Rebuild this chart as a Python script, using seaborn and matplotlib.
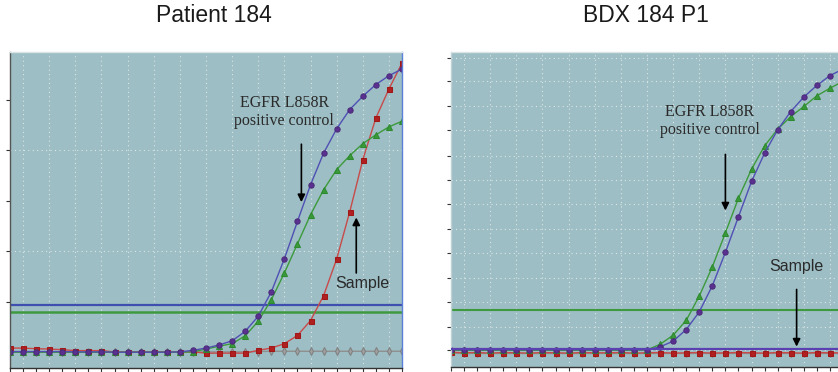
import numpy as np
import seaborn as sns
import matplotlib.pyplot as plt

sns.set_style("white")
plt.rcParams['font.family'] = ['Liberation Sans', 'DejaVu Sans']

cycles = list(range(31))

# Patient 184 (left panel), fluorescence in arbitrary units
left_purple = [5.2, 5.2, 5.2, 5.2, 5.2, 5.1, 5.1, 5.1, 5.0, 5.0, 5.0, 5.0, 5.0, 5.1, 5.6, 6.3,
               7.3, 8.6, 11.6, 16.4, 24.1, 34.6, 46.4, 58.0, 68.0, 75.7, 81.8, 86.0, 89.7, 92.5, 94.6]
left_green = [5.0, 5.0, 5.0, 5.0, 5.0, 5.0, 5.0, 5.0, 5.0, 5.0, 5.0, 5.0, 5.0, 5.0, 5.1, 6.0,
              6.9, 7.7, 10.2, 14.8, 21.6, 30.1, 39.3, 48.5, 56.4, 62.8, 67.2, 71.0, 73.8, 76.3, 78.1]
left_red = [6.3, 6.3, 6.1, 6.0, 5.8, 5.5, 5.5, 5.5, 5.1, 5.1, 5.1, 5.1, 5.1, 5.1, 5.1, 4.7,
            4.7, 4.7, 4.7, 5.6, 6.3, 7.7, 10.3, 15.0, 22.9, 34.5, 49.4, 65.9, 79.1, 88.3, 96.5]
left_gray = [5.0, 5.0, 5.0, 5.0, 5.0, 5.0, 5.0, 5.0, 5.0, 5.0, 5.0, 5.0, 5.0, 5.0, 5.1, 5.1,
             5.1, 5.1, 5.1, 5.2, 5.3, 5.3, 5.3, 5.3, 5.3, 5.3, 5.3, 5.3, 5.3, 5.3, 5.3]
left_thr_blue = 19.8
left_thr_green = 17.6

# BDX 184 P1 (right panel)
right_purple = [5.5, 5.5, 5.5, 5.5, 5.5, 5.5, 5.5, 5.5, 5.5, 5.5, 5.5, 5.5, 5.5, 5.5, 5.5, 5.5,
                6.4, 8.2, 11.9, 17.5, 25.8, 36.4, 47.7, 58.9, 67.9, 75.3, 81.1, 85.7, 89.4, 92.5, 94.6]
right_green = [5.3, 5.3, 5.3, 5.3, 5.3, 5.3, 5.3, 5.3, 5.3, 5.3, 5.3, 5.3, 5.3, 5.3, 5.3, 5.4,
               7.2, 10.1, 14.8, 22.5, 31.8, 42.6, 53.6, 62.8, 70.2, 75.5, 79.5, 82.7, 86.1, 88.5, 90.7]
right_red = [4.7, 4.5, 4.6, 4.4, 4.6, 4.5, 4.4, 4.6, 4.5, 4.4, 4.6, 4.5, 4.5, 4.6, 4.4, 4.5,
             4.6, 4.4, 4.5, 4.6, 4.4, 4.5, 4.6, 4.5, 4.4, 4.6, 4.5, 4.4, 4.6, 4.5, 4.5]
right_gray = [4.4, 4.3, 4.3, 4.3, 4.3, 4.3, 4.3, 4.3, 4.3, 4.3, 4.3, 4.3, 4.3, 4.3, 4.3, 4.3,
              4.3, 4.3, 4.3, 4.3, 4.3, 4.3, 4.3, 4.3, 4.3, 4.3, 4.3, 4.3, 4.3, 4.3, 4.3]
right_thr_green = 18.2
right_thr_purple = 5.8

titles = ['Patient 184', 'BDX 184 P1']

BG = '#9dbec4'
GRID = '#dbe6e8'


def draw_curves(ax, purple, green, red, gray):
    sns.lineplot(x=cycles, y=gray, ax=ax, color='#8f8f8f', lw=1.0, marker='d', ms=4,
                 mec='#808080', mfc='#a0a0a0')
    sns.lineplot(x=cycles, y=red, ax=ax, color='#c84a4a', lw=1.0, marker='s', ms=3.6,
                 mec='#a01818', mfc='#b02020')
    sns.lineplot(x=cycles, y=green, ax=ax, color='#3c9a3c', lw=1.0, marker='^', ms=3.8,
                 mec='#2e8a2e', mfc='#3a9a3a')
    sns.lineplot(x=cycles, y=purple, ax=ax, color='#5050b4', lw=1.0, marker='o', ms=3.8,
                 mec='#4a2a7a', mfc='#5a3090')


def style_axes(ax, yticks, ygrid):
    ax.set_facecolor(BG)
    ax.set_xlim(0, 30)
    ax.set_ylim(0, 100)
    ax.set_xticks(cycles)
    ax.set_xticklabels([])
    ax.set_yticks(yticks)
    ax.set_yticklabels([])
    ax.tick_params(axis='both', direction='out', length=3, width=0.8, color='#333333',
                   bottom=True, left=True)
    for c in range(1, 30, 2):
        ax.axvline(c, color=GRID, lw=0.8, ls=(0, (1, 3)), zorder=0)
    for g in ygrid:
        ax.axhline(g, color=GRID, lw=0.8, ls=(0, (1, 3)), zorder=0)
    ax.set_xlabel('')
    ax.set_ylabel('')
    for s in ax.spines.values():
        s.set_linewidth(1.0)
    ax.spines['bottom'].set_color('#333333')
    ax.spines['left'].set_color('#555555')
    ax.spines['top'].set_color('#d8e4e6')


fig = plt.figure(figsize=(8.38, 3.72), dpi=100)
axL = fig.add_axes([10 / 838, 4 / 372, 392 / 838, 316 / 372])
axR = fig.add_axes([451 / 838, 5 / 372, 392 / 838, 315 / 372])

# left panel
style_axes(axL, [20.9, 37.1, 53.0, 69.1, 84.9], [37.1, 69.1])
axL.spines['right'].set_color('#5a80d8')
axL.axhline(left_thr_blue, color='#3f4fb0', lw=1.6, zorder=1)
axL.axhline(left_thr_green, color='#3f9a3f', lw=1.8, zorder=1)
draw_curves(axL, left_purple, left_green, left_red, left_gray)
axL.text(21.0, 81.0, 'EGFR L858R\npositive control', ha='center', va='center',
         family=['Liberation Serif', 'DejaVu Serif'], fontsize=11.5, color='#2a2a2a',
         linespacing=1.1)
axL.annotate('', xy=(22.3, 51.6), xytext=(22.3, 71.7),
             arrowprops=dict(arrowstyle='-|>', color='black', lw=1.2, mutation_scale=11))
axL.text(27.0, 26.6, 'Sample', ha='center', va='center', fontsize=11.5, color='#2a2a2a')
axL.annotate('', xy=(26.5, 48.5), xytext=(26.5, 29.2),
             arrowprops=dict(arrowstyle='-|>', color='black', lw=1.2, mutation_scale=11))

# right panel
right_grid = [5.3, 12.7, 20.7, 28.1, 36.1, 43.8, 51.6, 59.4, 67.0, 75.1, 82.7, 90.7, 98.1]
style_axes(axR, right_grid, right_grid)
axR.spines['right'].set_visible(False)
axR.spines['left'].set_color('#c0d2d6')
axR.axhline(right_thr_green, color='#3f9a3f', lw=1.5, zorder=1)
draw_curves(axR, right_purple, right_green, right_red, right_gray)
axR.axhline(right_thr_purple, color='#5a40b0', lw=1.6, zorder=3)
axR.text(19.8, 78.1, 'EGFR L858R\npositive control', ha='center', va='center',
         family=['Liberation Serif', 'DejaVu Serif'], fontsize=11.5, color='#2a2a2a',
         linespacing=1.1)
axR.annotate('', xy=(21.0, 48.8), xytext=(21.0, 68.4),
             arrowprops=dict(arrowstyle='-|>', color='black', lw=1.2, mutation_scale=11))
axR.text(26.4, 32.0, 'Sample', ha='center', va='center', fontsize=11.5, color='#2a2a2a')
axR.annotate('', xy=(26.45, 5.6), xytext=(26.45, 25.5),
             arrowprops=dict(arrowstyle='-|>', color='black', lw=1.2, mutation_scale=11))

fig.text(214 / 838, 1 - 16 / 372, titles[0], ha='center', va='center',
         fontsize=16.5, color='#1a1a1a')
fig.text(646 / 838, 1 - 16 / 372, titles[1], ha='center', va='center',
         fontsize=16.5, color='#1a1a1a')

fig.savefig('out.png', dpi=100)
